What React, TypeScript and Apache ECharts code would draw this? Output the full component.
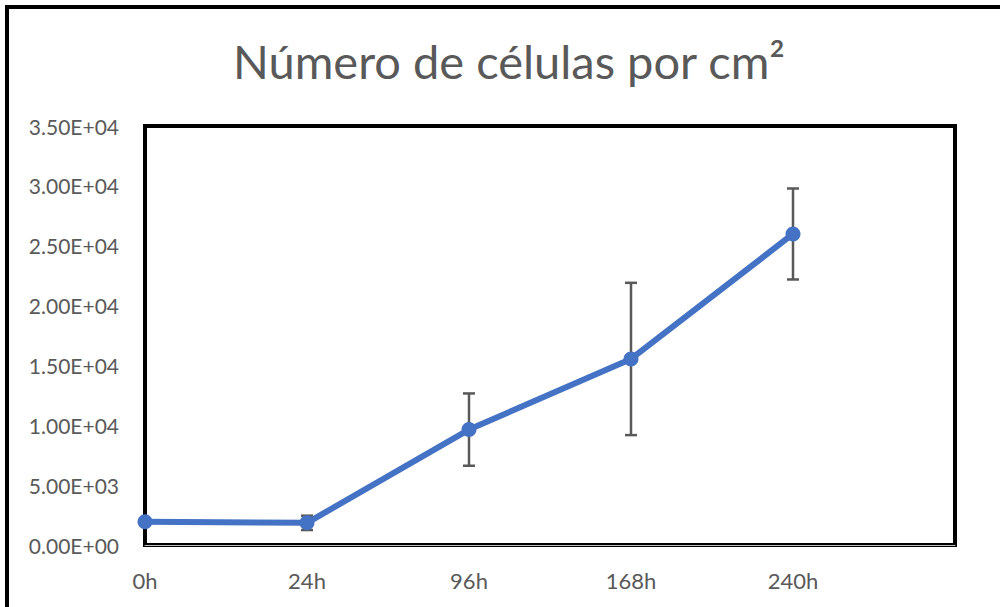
import React, { useEffect, useRef } from "react";
import * as echarts from "echarts";

const categories = ["0h", "24h", "96h", "168h", "240h", ""];
const means = [1950, 1850, 9640, 15540, 25980];
const errors = [0, 600, 3020, 6360, 3800];
const yTicks = { min: 0, max: 35000, interval: 5000 };
const titleText = "Número de células por cm²";

function fmt(v: number): string {
  const s = v.toExponential(2);
  const [m, e] = s.split("e");
  const sign = e[0] === "-" ? "-" : "+";
  const digits = e.replace(/[+-]/, "").padStart(2, "0");
  return `${m}E${sign}${digits}`;
}

export default function App() {
  const ref = useRef<HTMLDivElement>(null);
  useEffect(() => {
    document.body.style.margin = "0";
    const chart = echarts.init(ref.current!, null, { renderer: "svg" });
    const errData = means.map((m, i) => [i, m - errors[i], m + errors[i]]);
    chart.setOption({
      animation: false,
      backgroundColor: "#ffffff",
      textStyle: { fontFamily: "Lato" },
      title: {
        text: titleText,
        left: 233,
        top: 37,
        padding: 0,
        textStyle: { fontFamily: "Lato", fontSize: 47, fontWeight: "normal", color: "#595959" },
      },
      graphic: [
        {
          type: "rect",
          shape: { x: 7, y: 7, width: 1100, height: 700 },
          style: { fill: "none", stroke: "#000", lineWidth: 4 },
          z: 100,
        },
      ],
      grid: {
        left: 145,
        right: 45,
        top: 126,
        bottom: 62,
        show: true,
        borderColor: "#000",
        borderWidth: 4,
      },
      xAxis: {
        type: "category",
        data: categories,
        boundaryGap: false,
        axisLine: { show: true, lineStyle: { color: "#bfbfbf", width: 1 } },
        axisTick: { show: false },
        splitLine: { show: false },
        axisLabel: { color: "#595959", fontSize: 22, margin: 24, fontFamily: "Lato" },
      },
      yAxis: {
        type: "value",
        min: yTicks.min,
        max: yTicks.max,
        interval: yTicks.interval,
        axisLine: { show: false },
        axisTick: { show: false },
        splitLine: { show: false },
        axisLabel: { color: "#595959", fontSize: 21, margin: 26, fontFamily: "Lato", formatter: (v: number) => fmt(v) },
      },
      series: [
        {
          type: "custom",
          data: errData,
          z: 2,
          renderItem: (params: any, api: any) => {
            const x = api.value(0);
            const lo = api.coord([x, api.value(1)]);
            const hi = api.coord([x, api.value(2)]);
            const w = 6;
            const style = { stroke: "#595959", lineWidth: 2.5 };
            return {
              type: "group",
              children: [
                { type: "line", shape: { x1: lo[0], y1: lo[1], x2: hi[0], y2: hi[1] }, style },
                { type: "line", shape: { x1: lo[0] - w, y1: lo[1], x2: lo[0] + w, y2: lo[1] }, style },
                { type: "line", shape: { x1: hi[0] - w, y1: hi[1], x2: hi[0] + w, y2: hi[1] }, style },
              ],
            };
          },
        },
        {
          type: "line",
          data: means,
          z: 5,
          symbol: "circle",
          symbolSize: 15,
          lineStyle: { color: "#4472C4", width: 6 },
          itemStyle: { color: "#4472C4" },
        },
      ],
    });
    return () => chart.dispose();
  }, []);
  return <div ref={ref} style={{ width: 1000, height: 607 }} />;
}
